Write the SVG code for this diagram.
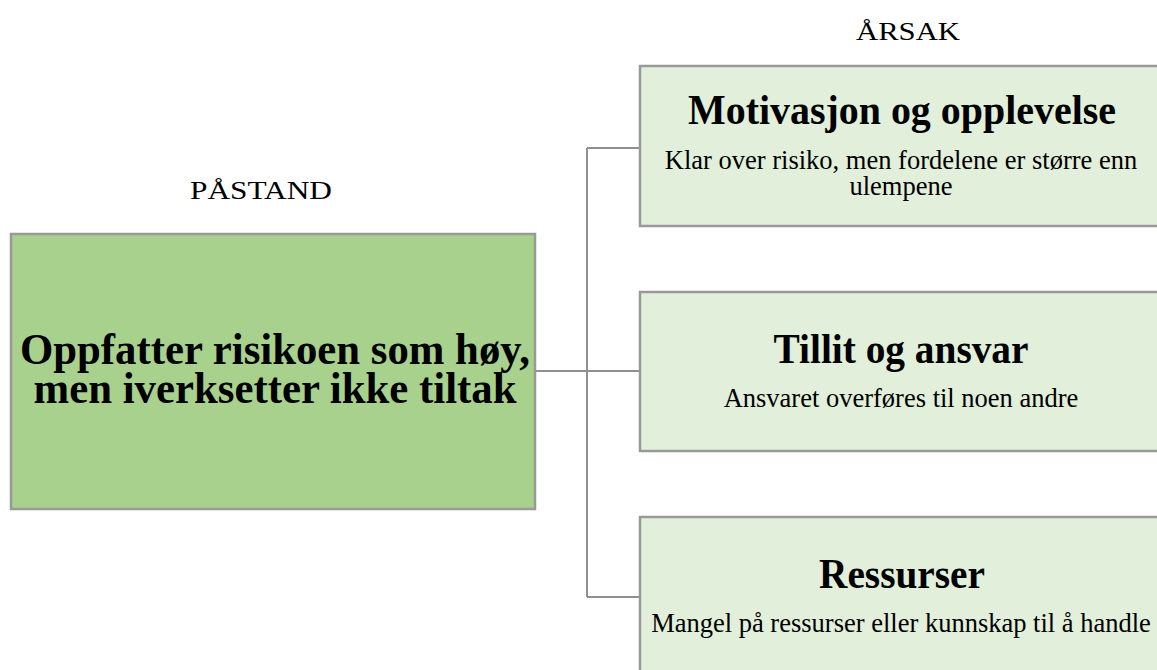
<svg xmlns="http://www.w3.org/2000/svg" width="1157" height="670" viewBox="0 0 1157 670">
<style>
.t{font-family:"Liberation Serif","Times New Roman",serif;fill:#000;text-anchor:middle}
.b{font-weight:bold}
.box{stroke:#999;stroke-width:2.5}
.main{fill:#A9D18E}
.sub{fill:#E2EFDA}
.conn{fill:none;stroke:#909090;stroke-width:2}
</style>
<rect width="1157" height="670" fill="#fff"/>
<text class="t" x="908" y="40" font-size="26" textLength="104" lengthAdjust="spacingAndGlyphs">ÅRSAK</text>
<text class="t" x="261" y="199" font-size="26" textLength="142" lengthAdjust="spacingAndGlyphs">PÅSTAND</text>
<g id="connectors">
<path class="conn" d="M535 371 H587 M587 148 V597 M587 148 H640 M587 371 H640 M587 597 H640"/>
</g>
<g id="node-main">
<rect class="box main" x="11" y="234" width="524" height="275"/>
<text class="t b" x="275" y="364" font-size="44" textLength="510" lengthAdjust="spacingAndGlyphs">Oppfatter risikoen som høy,</text>
<text class="t b" x="275" y="403" font-size="44" textLength="483" lengthAdjust="spacingAndGlyphs">men iverksetter ikke tiltak</text>
</g>
<g id="node-motivasjon">
<rect class="box sub" x="640" y="66" width="530" height="160"/>
<text class="t b" x="902" y="124" font-size="42" textLength="428" lengthAdjust="spacingAndGlyphs">Motivasjon og opplevelse</text>
<text class="t" x="901" y="168.5" font-size="26.5">Klar over risiko, men fordelene er større enn</text>
<text class="t" x="901" y="194.5" font-size="26.5">ulempene</text>
</g>
<g id="node-tillit">
<rect class="box sub" x="640" y="292" width="530" height="159"/>
<text class="t b" x="901" y="362.5" font-size="43" textLength="255" lengthAdjust="spacingAndGlyphs">Tillit og ansvar</text>
<text class="t" x="901" y="407" font-size="26.5">Ansvaret overføres til noen andre</text>
</g>
<g id="node-ressurser">
<rect class="box sub" x="640" y="517" width="530" height="170"/>
<text class="t b" x="902" y="587.5" font-size="43" textLength="166" lengthAdjust="spacingAndGlyphs">Ressurser</text>
<text class="t" x="901" y="631.5" font-size="26.5">Mangel på ressurser eller kunnskap til å handle</text>
</g>
</svg>
